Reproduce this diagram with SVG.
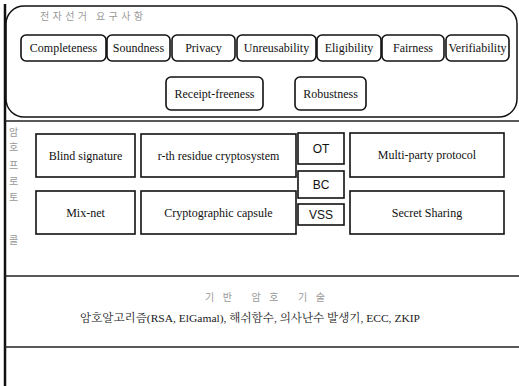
<svg xmlns="http://www.w3.org/2000/svg" width="519" height="386" viewBox="0 0 519 386">
<style>
.bx{fill:#fff;stroke:#111;stroke-width:1.6}
.t{font-family:"Liberation Serif","Noto Serif CJK KR","Noto Sans CJK KR",serif;font-size:12px;fill:#111;text-anchor:middle}
.s{font-family:"Liberation Sans",Arial,sans-serif;font-size:12px;fill:#111;text-anchor:middle}
.k{font-family:"Noto Sans CJK KR",sans-serif;fill:#999;font-size:10px}
.ln{stroke:#222;stroke-width:1.4}
</style>
<rect width="519" height="386" fill="#fff"/>
<g id="frame">
<line x1="5" y1="4" x2="5" y2="386" stroke="#111" stroke-width="2.5"/>
<rect x="6" y="6" width="511" height="111" rx="18" ry="18" fill="none" stroke="#111" stroke-width="1.5"/>
<line class="ln" x1="5" y1="121" x2="519" y2="121" stroke-width="1" stroke="#666"/>
<line class="ln" x1="5" y1="276" x2="519" y2="276"/>
<line class="ln" x1="5" y1="347" x2="519" y2="347"/>
</g>
<g id="req-title"><text class="k" x="40" y="20" font-size="11" textLength="103">전자선거 요구사항</text></g>
<g id="completeness"><rect class="bx" x="21" y="35" width="85" height="26" rx="5"/><text class="t" x="63.5" y="52">Completeness</text></g>
<g id="soundness"><rect class="bx" x="107" y="35" width="63" height="26" rx="5"/><text class="t" x="138.5" y="52">Soundness</text></g>
<g id="privacy"><rect class="bx" x="172" y="35" width="63" height="26" rx="5"/><text class="t" x="203.5" y="52">Privacy</text></g>
<g id="unreusability"><rect class="bx" x="237" y="35" width="79" height="26" rx="5"/><text class="t" x="276.5" y="52">Unreusability</text></g>
<g id="eligibility"><rect class="bx" x="317" y="35" width="64" height="26" rx="5"/><text class="t" x="349" y="52">Eligibility</text></g>
<g id="fairness"><rect class="bx" x="382" y="35" width="62" height="26" rx="5"/><text class="t" x="413" y="52">Fairness</text></g>
<g id="verifiability"><rect class="bx" x="446" y="35" width="63" height="26" rx="5"/><text class="t" x="477.5" y="52">Verifiability</text></g>
<g id="receipt-freeness"><rect class="bx" x="166" y="77" width="97" height="33" rx="5"/><text class="t" x="214.5" y="98">Receipt-freeness</text></g>
<g id="robustness"><rect class="bx" x="295" y="77" width="71" height="33" rx="5"/><text class="t" x="330.5" y="98">Robustness</text></g>
<g id="proto-title" class="k" font-size="9">
<text x="9" y="136">암</text><text x="9" y="151">호</text><text x="9" y="169">프</text><text x="9" y="185">로</text><text x="9" y="201">토</text><text x="9" y="244">콜</text>
</g>
<g id="blind-signature"><rect class="bx" x="36" y="134" width="99" height="43"/><text class="t" x="85.5" y="160">Blind signature</text></g>
<g id="rth-residue"><rect class="bx" x="141" y="134" width="155" height="43"/><text class="t" x="218.5" y="160">r-th residue cryptosystem</text></g>
<g id="ot"><rect class="bx" x="298" y="133" width="46" height="31"/><text class="s" x="321" y="153">OT</text></g>
<g id="bc"><rect class="bx" x="298" y="171" width="46" height="27"/><text class="s" x="321" y="189">BC</text></g>
<g id="vss"><rect class="bx" x="298" y="204" width="46" height="21"/><text class="s" x="321" y="219">VSS</text></g>
<g id="multi-party"><rect class="bx" x="350" y="133" width="154" height="44"/><text class="t" x="427" y="159">Multi-party protocol</text></g>
<g id="mix-net"><rect class="bx" x="36" y="191" width="99" height="43"/><text class="t" x="85.5" y="217">Mix-net</text></g>
<g id="crypto-capsule"><rect class="bx" x="141" y="191" width="155" height="43"/><text class="t" x="218.5" y="217">Cryptographic capsule</text></g>
<g id="secret-sharing"><rect class="bx" x="350" y="191" width="154" height="43"/><text class="t" x="427" y="217">Secret Sharing</text></g>
<g id="base-title"><text class="k" x="205" y="301" textLength="120">기반 암호 기술</text></g>
<g id="base-tech"><text x="80" y="322" font-family="Liberation Serif,'Noto Serif CJK KR','Noto Sans CJK KR',serif" font-size="11" fill="#222" textLength="340" lengthAdjust="spacingAndGlyphs">암호알고리즘(RSA, ElGamal), 해쉬함수, 의사난수 발생기, ECC, ZKIP</text></g>
<g id="connectors"></g>
</svg>
